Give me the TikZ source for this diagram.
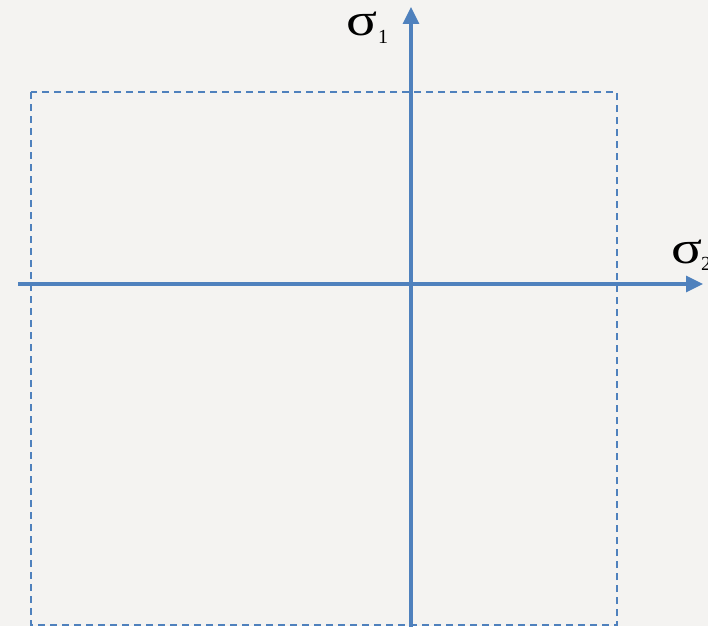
\documentclass[tikz,border=0pt]{standalone}
\usepackage{fontspec}
\setmainfont{Liberation Serif}
\usetikzlibrary{arrows.meta}
\definecolor{axblue}{HTML}{4F81BD}
\definecolor{bg}{HTML}{F4F3F1}
\begin{document}
\begin{tikzpicture}[x=1pt,y=-1pt,
  axis/.style={draw=axblue,line width=3.3pt,-{Triangle[length=17pt,width=16pt]}},
  box/.style={draw=axblue,line width=1.3pt,dash pattern=on 7pt off 5pt},
  sig/.style={inner sep=0pt,anchor=base west,xscale=1.25,font=\fontsize{46}{46}\selectfont},
  sub/.style={inner sep=0pt,anchor=base west,font=\fontsize{20}{20}\selectfont}]
\fill[bg] (0,0) rectangle (708,626);
\useasboundingbox (0,0) rectangle (708,626);
\draw[box] (31,92) rectangle (617,625);
\coordinate (hl) at (18,284);
\coordinate (hr) at (703,284);
\coordinate (vb) at (411,630);
\coordinate (vt) at (411,7);
\draw[axis] (hl) -- (hr);
\draw[axis] (vb) -- (vt);
\node[sig] (s1) at (346,36) {σ};
\node[sub] (s1i) at (378,44) {1};
\node[sig] (s2) at (671,263) {σ};
\node[sub] (s2i) at (701,270) {2};
\end{tikzpicture}
\end{document}
